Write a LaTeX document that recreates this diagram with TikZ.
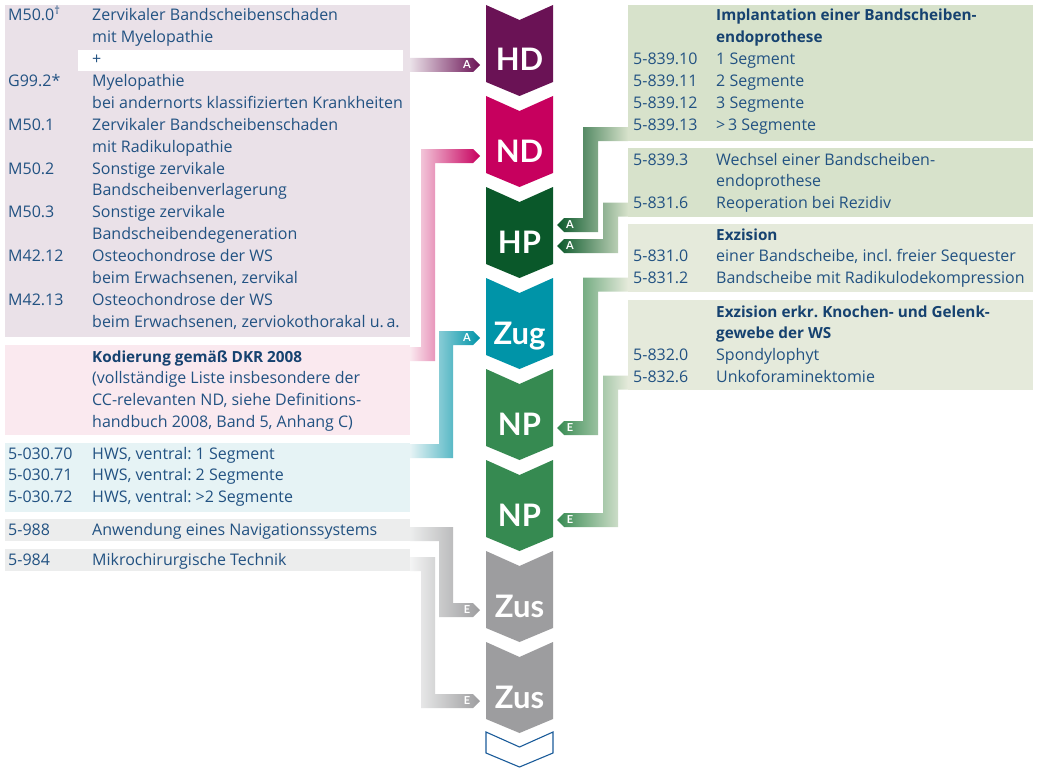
\documentclass[tikz,border=0pt]{standalone}
\usepackage{fontspec}
\setmainfont{Open Sans}
\newfontfamily\chevfont{Lato}
\usetikzlibrary{calc}
\definecolor{txtc}{RGB}{34,82,130}
\definecolor{hdrc}{RGB}{22,66,112}
\definecolor{pMauve}{RGB}{234,225,232}
\definecolor{pPink}{RGB}{250,233,239}
\definecolor{pBlue}{RGB}{230,243,245}
\definecolor{pGray}{RGB}{236,237,237}
\definecolor{pGreenA}{RGB}{215,226,203}
\definecolor{pGreenB}{RGB}{229,234,219}
\definecolor{cHD}{RGB}{106,18,85}
\definecolor{cND}{RGB}{199,0,94}
\definecolor{cHP}{RGB}{10,88,42}
\definecolor{cZug}{RGB}{0,148,168}
\definecolor{cNP}{RGB}{54,138,81}
\definecolor{cZus}{RGB}{157,157,159}
\definecolor{cOut}{RGB}{27,92,154}
\tikzset{
  panel/.style={draw=none, inner sep=0pt, anchor=north west},
  txt/.style={inner sep=0pt, anchor=base west, text=txtc, font=\fontsize{16}{21.86}\selectfont\frenchspacing},
  chevlbl/.style={inner sep=0pt, anchor=base, text=white, font=\chevfont\fontsize{31}{31}\selectfont\bfseries},
  flaglbl/.style={inner sep=0pt, text=white, font=\chevfont\fontsize{11}{11}\selectfont\bfseries},
}
\newcommand\hdr[1]{\textcolor{hdrc}{\fontsize{15.3}{21.86}\fontseries{sb}\selectfont #1}}
% chevron: #1 top y, #2 colour, #3 name, #4 label
\newcommand\chev[4]{%
  \fill[#2] (486,#1) -- (519.5,{#1+15}) -- (553,#1) -- (553,{#1+77}) -- (519.5,{#1+91}) -- (486,{#1+77}) -- cycle;
  \node[chevlbl] (#3) at (519.5,{#1+66}) {#4};}
% straight connector to the right: #1 start, #2 tip, #3 style
\newcommand\straightR[3]{%
  \path[#3] let \p1=(#1), \p2=(#2) in
   (\x1,\y1+7pt) -- (\x2-7pt,\y1+7pt) -- (\x2,\y2) -- (\x2-7pt,\y1-7pt) -- (\x1,\y1-7pt) -- cycle;}
% elbow up, to the right: #1 start, #2 tip, #3 vertical x, #4 style
\newcommand\upR[4]{%
  \path[#4] let \p1=(#1), \p2=(#2) in
   (\x1,\y1+7pt) -- (#3pt,\y1+7pt) -- (#3pt,\y2+7pt) -- (\x2-7pt,\y2+7pt) -- (\x2,\y2)
   -- (\x2-7pt,\y2-7pt) -- (#3pt+14pt,\y2-7pt) -- (#3pt+14pt,\y1-7pt) -- (\x1,\y1-7pt) -- cycle;}
% elbow down, to the right
\newcommand\downR[4]{%
  \path[#4] let \p1=(#1), \p2=(#2) in
   (\x1,\y1+7pt) -- (#3pt+14pt,\y1+7pt) -- (#3pt+14pt,\y2+7pt) -- (\x2-7pt,\y2+7pt) -- (\x2,\y2)
   -- (\x2-7pt,\y2-7pt) -- (#3pt,\y2-7pt) -- (#3pt,\y1-7pt) -- (\x1,\y1-7pt) -- cycle;}
% elbow down, to the left
\newcommand\downL[4]{%
  \path[#4] let \p1=(#1), \p2=(#2) in
   (\x1,\y1+7pt) -- (#3pt,\y1+7pt) -- (#3pt,\y2+7pt) -- (\x2+7pt,\y2+7pt) -- (\x2,\y2)
   -- (\x2+7pt,\y2-7pt) -- (#3pt+15pt,\y2-7pt) -- (#3pt+15pt,\y1-7pt) -- (\x1,\y1-7pt) -- cycle;}
\begin{document}
\begin{tikzpicture}[x=1pt,y=-1pt]
\useasboundingbox (0,0) rectangle (1037,768);
\fill[white] (0,0) rectangle (1037,768);

% ---------- left panels ----------
\node[panel, fill=pMauve, minimum width=405pt, minimum height=332pt] (lp1) at (5,5) {};
\fill[white] (78,50) rectangle (403,71);
\node[panel, fill=pPink, minimum width=405pt, minimum height=90pt] (lp2) at (5,345) {};
\node[panel, fill=pBlue, minimum width=405pt, minimum height=69pt] (lp3) at (5,443) {};
\node[panel, fill=pGray, minimum width=405pt, minimum height=22pt] (lp4) at (5,519) {};
\node[panel, fill=pGray, minimum width=405pt, minimum height=22pt] (lp5) at (5,549) {};

\node[txt] (lt1) at (8,21) {\begin{tabular}[t]{@{}p{84pt}@{}l@{}}
M50.0\textsuperscript{†} & Zervikaler Bandscheibenschaden\\
 & mit Myelopathie\\
 & +\\
G99.2* & Myelopathie\\
 & bei andernorts klassifizierten Krankheiten\\
M50.1 & Zervikaler Bandscheibenschaden\\
 & mit Radikulopathie\\
M50.2 & Sonstige zervikale\\
 & Bandscheibenverlagerung\\
M50.3 & Sonstige zervikale\\
 & Bandscheibendegeneration\\
M42.12 & Osteochondrose der WS\\
 & beim Erwachsenen, zervikal\\
M42.13 & Osteochondrose der WS\\
 & beim Erwachsenen, zerviokothorakal u.\,a.
\end{tabular}};
\node[txt] (lt2) at (8,362) {\begin{tabular}[t]{@{}p{84pt}@{}l@{}}
 & \hdr{Kodierung gemäß DKR 2008}\\
 & (vollständige Liste insbesondere der\\
 & CC-relevanten ND, siehe Definitions-\\
 & handbuch 2008, Band 5, Anhang C)
\end{tabular}};
\node[txt] (lt3) at (8,459) {\begin{tabular}[t]{@{}p{84pt}@{}l@{}}
5-030.70 & HWS, ventral: 1 Segment\\
5-030.71 & HWS, ventral: 2 Segmente\\
5-030.72 & HWS, ventral: >2 Segmente
\end{tabular}};
\node[txt] (lt4) at (8,535) {\begin{tabular}[t]{@{}p{84pt}@{}l@{}}
5-988 & Anwendung eines Navigationssystems
\end{tabular}};
\node[txt] (lt5) at (8,565) {\begin{tabular}[t]{@{}p{84pt}@{}l@{}}
5-984 & Mikrochirurgische Technik
\end{tabular}};

% ---------- right panels ----------
\node[panel, fill=pGreenA, minimum width=405pt, minimum height=136pt] (rp1) at (628,5) {};
\node[panel, fill=pGreenA, minimum width=405pt, minimum height=69pt] (rp2) at (628,148) {};
\node[panel, fill=pGreenB, minimum width=405pt, minimum height=68pt] (rp3) at (628,224) {};
\node[panel, fill=pGreenB, minimum width=405pt, minimum height=90pt] (rp4) at (628,300) {};

\node[txt] (rt1) at (633,21) {\begin{tabular}[t]{@{}p{83pt}@{}l@{}}
 & \hdr{Implantation einer Bandscheiben-}\\
 & \hdr{endoprothese}\\
5-839.10 & 1 Segment\\
5-839.11 & 2 Segmente\\
5-839.12 & 3 Segmente\\
5-839.13 & >\,3 Segmente
\end{tabular}};
\node[txt] (rt2) at (633,165) {\begin{tabular}[t]{@{}p{83pt}@{}l@{}}
5-839.3 & Wechsel einer Bandscheiben-\\
 & endoprothese\\
5-831.6 & Reoperation bei Rezidiv
\end{tabular}};
\node[txt] (rt3) at (633,240) {\begin{tabular}[t]{@{}p{83pt}@{}l@{}}
 & \hdr{Exzision}\\
5-831.0 & einer Bandscheibe, incl. freier Sequester\\
5-831.2 & Bandscheibe mit Radikulodekompression
\end{tabular}};
\node[txt] (rt4) at (633,317) {\begin{tabular}[t]{@{}p{83pt}@{}l@{}}
 & \hdr{Exzision erkr. Knochen- und Gelenk-}\\
 & \hdr{gewebe der WS}\\
5-832.0 & Spondylophyt\\
5-832.6 & Unkoforaminektomie
\end{tabular}};

% ---------- chevrons ----------
\chev{5}{cHD}{hd}{HD}
\chev{96}{cND}{nd}{ND}
\chev{187}{cHP}{hp}{HP}
\chev{278}{cZug}{zug}{Zug}
\chev{369}{cNP}{npa}{NP}
\chev{460}{cNP}{npb}{NP}
\chev{551}{cZus}{zusa}{Zus}
\chev{642}{cZus}{zusb}{Zus}
\draw[cOut, line width=1.1pt, line join=miter] (486,732) -- (519.5,747) -- (553,732) -- (553,753) -- (519.5,767) -- (486,753) -- cycle;

% ---------- connector end points ----------
\coordinate (hdS) at (410,65);   \coordinate (hdT) at (480,65);
\coordinate (ndS) at (410,354);  \coordinate (ndT) at (480,156);
\coordinate (zugS) at (410,451); \coordinate (zugT) at (480,338);
\coordinate (zusaS) at (410,534); \coordinate (zusaT) at (480,610);
\coordinate (zusbS) at (410,564); \coordinate (zusbT) at (480,701);
\coordinate (hpaS) at (628,134);  \coordinate (hpaT) at (557,225);
\coordinate (hpbS) at (628,209.5); \coordinate (hpbT) at (557,246);
\coordinate (npaS) at (628,284.5); \coordinate (npaT) at (557,428);
\coordinate (npbS) at (628,382.5); \coordinate (npbT) at (557,520);

% ---------- connectors ----------
\straightR{hdS}{hdT}{left color=pMauve, right color=cHD}
\upR{ndS}{ndT}{421}{left color=pPink, right color=cND}
\upR{zugS}{zugT}{439}{left color=pBlue, right color=cZug}
\downR{zusaS}{zusaT}{439}{left color=pGray, right color=cZus}
\downR{zusbS}{zusbT}{421}{left color=pGray!60!white, right color=cZus}
\downL{hpaS}{hpaT}{583}{left color=cHP, right color=pGreenA}
\downL{hpbS}{hpbT}{603}{left color=cHP, right color=pGreenA}
\downL{npaS}{npaT}{583}{left color=cNP, right color=pGreenB}
\downL{npbS}{npbT}{603}{left color=cNP, right color=pGreenB}

\node[flaglbl] (lhd) at ($(hdT)+(-13,0)$) {A};
\node[flaglbl] (lzug) at ($(zugT)+(-13,0)$) {A};
\node[flaglbl] (lzusa) at ($(zusaT)+(-13,0)$) {E};
\node[flaglbl] (lzusb) at ($(zusbT)+(-13,0)$) {E};
\node[flaglbl] (lhpa) at ($(hpaT)+(13,0)$) {A};
\node[flaglbl] (lhpb) at ($(hpbT)+(13,0)$) {A};
\node[flaglbl] (lnpa) at ($(npaT)+(13,0)$) {E};
\node[flaglbl] (lnpb) at ($(npbT)+(13,0)$) {E};
\end{tikzpicture}
\end{document}
